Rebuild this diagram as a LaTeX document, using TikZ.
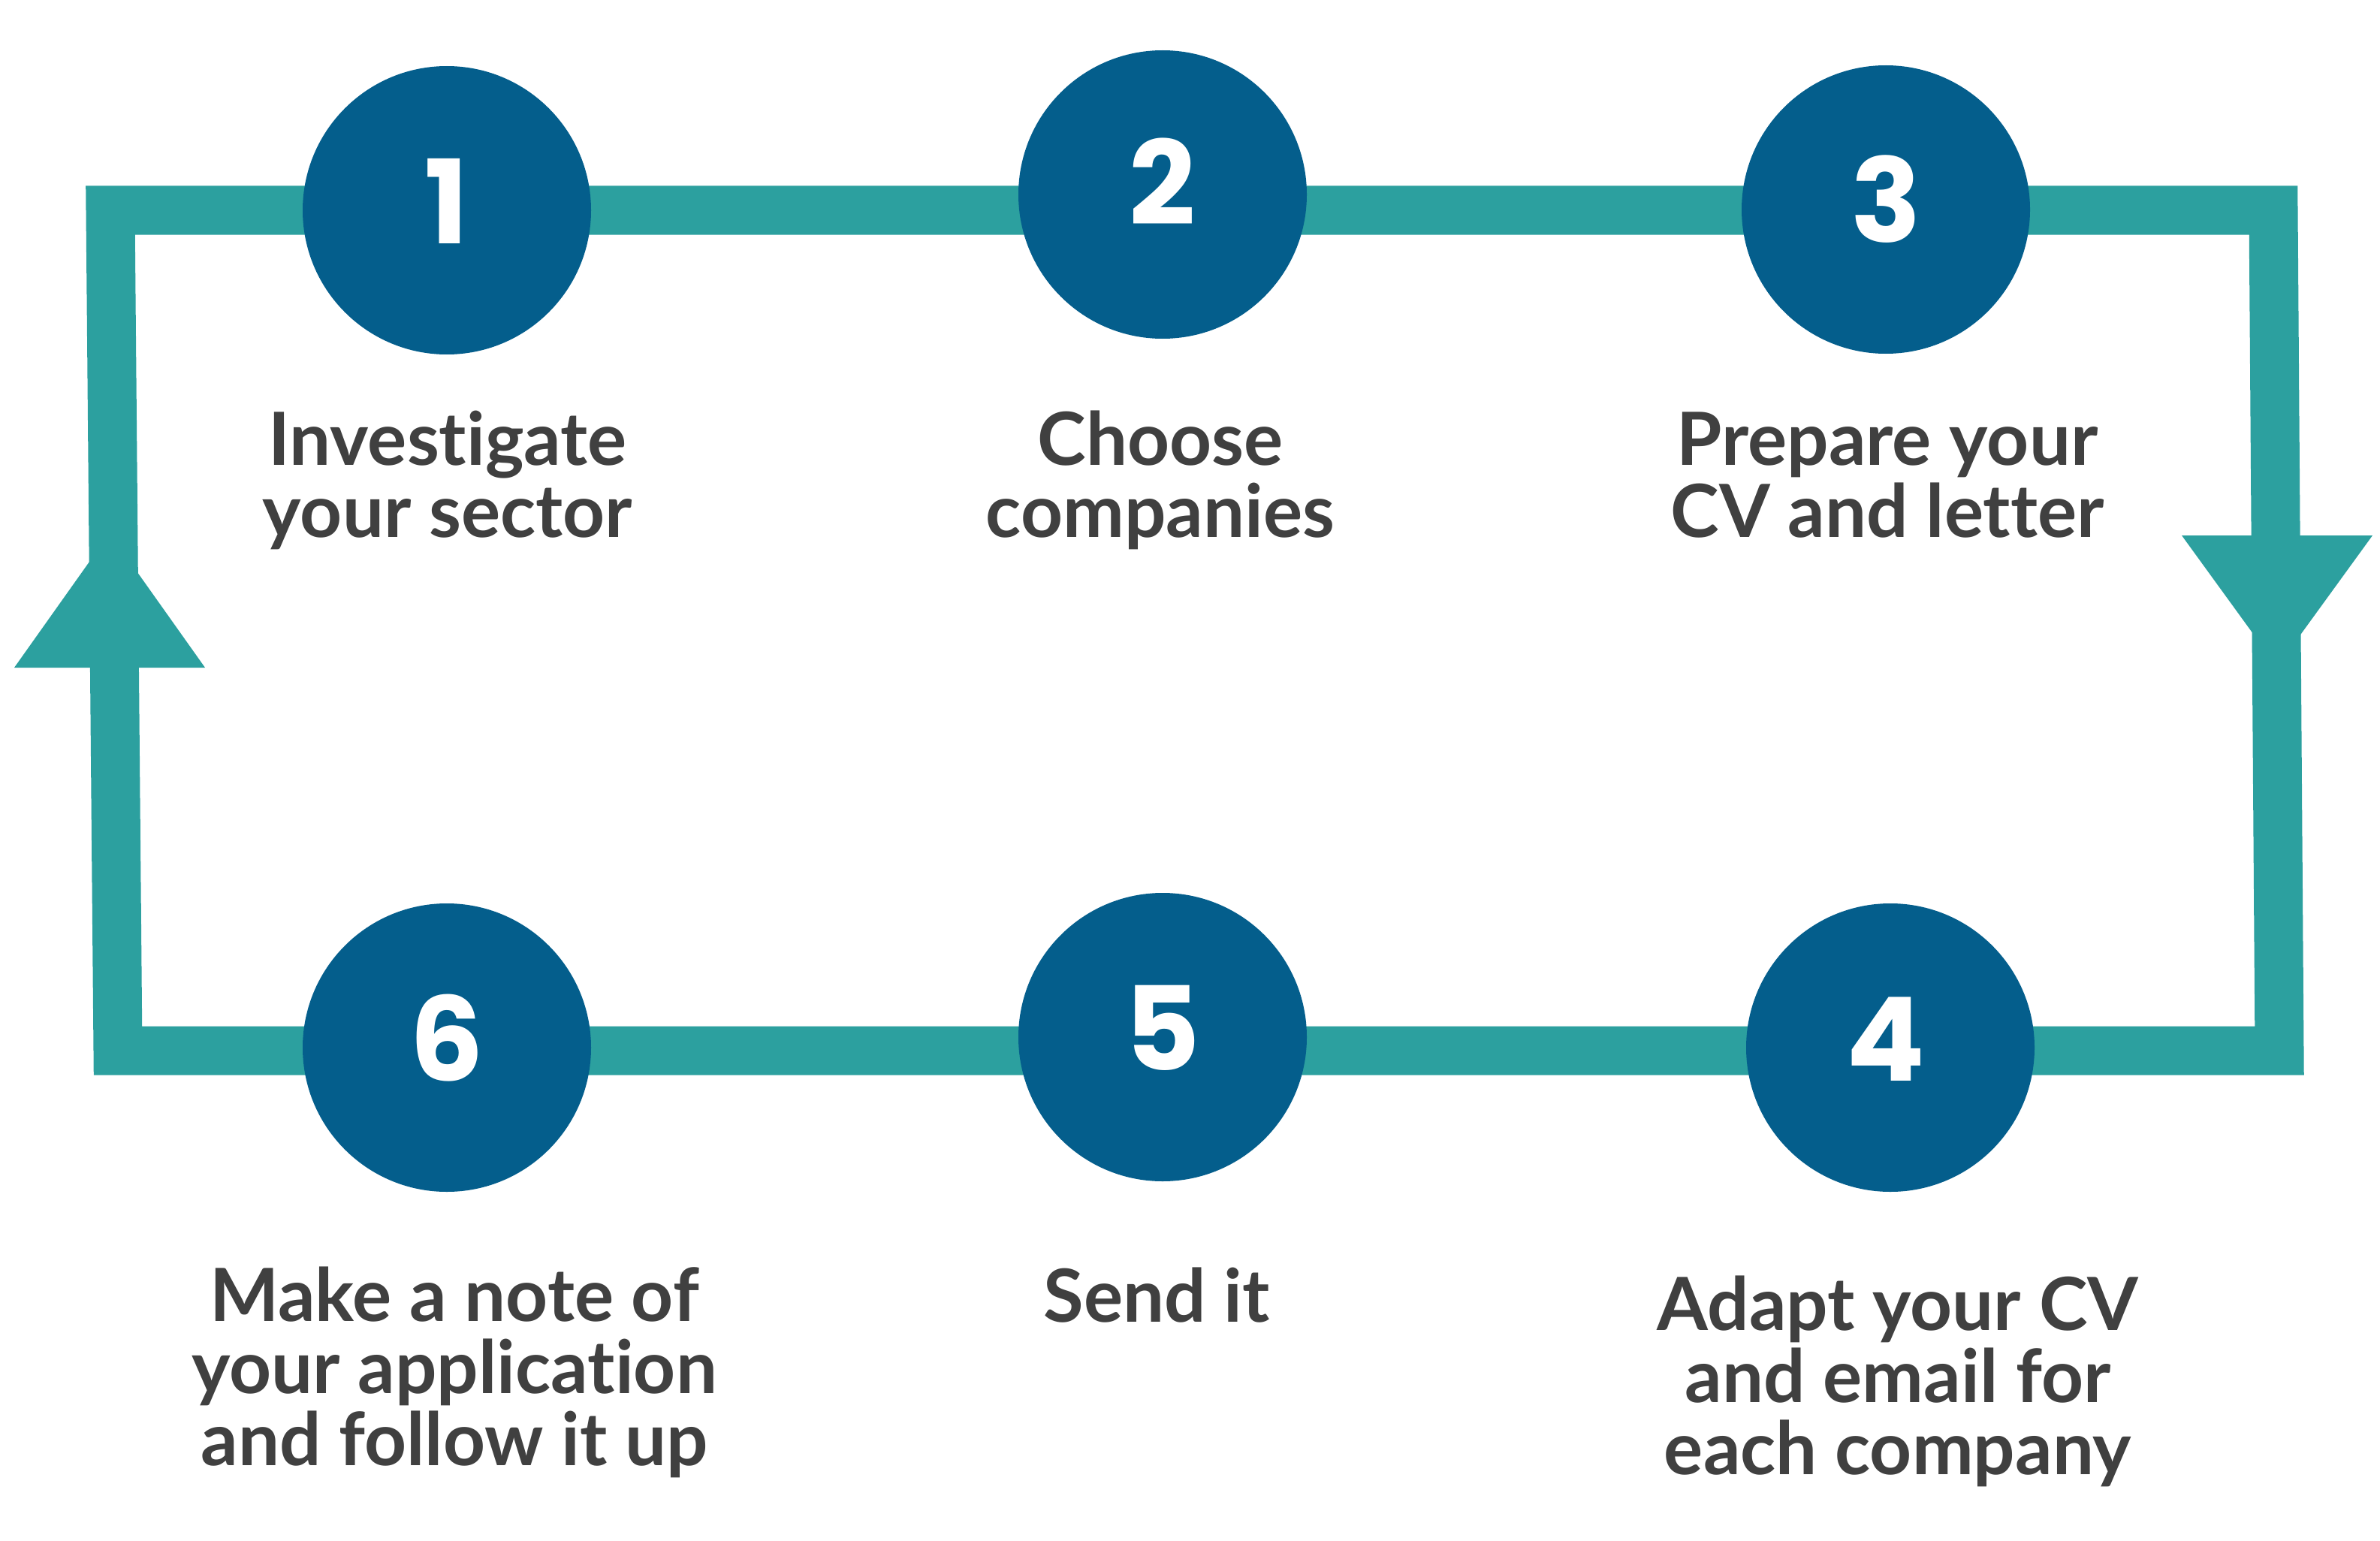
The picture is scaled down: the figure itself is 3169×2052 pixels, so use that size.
\documentclass[tikz,border=0pt]{standalone}
\usepackage{fontspec}
\newfontfamily\labelfont[Ligatures={NoCommon}]{Lato}
\newfontfamily\digitfont{Poppins}
\definecolor{loopteal}{RGB}{44,160,159}
\definecolor{stepblue}{RGB}{4,94,140}
\definecolor{textgrey}{RGB}{64,64,64}

\begin{document}
\begin{tikzpicture}[x=1pt,y=-1pt,
  bar/.style={draw=loopteal, line width=65pt, line join=miter},
  head/.style={fill=loopteal},
  stepdot/.style={circle, fill=stepblue, minimum size=384pt, inner sep=0pt},
  digit/.style={text=white, font=\digitfont\bfseries\fontsize{155}{155}\selectfont,
                anchor=base, inner sep=0pt},
  caption/.style={text=textgrey, font=\labelfont\bfseries\fontsize{97.7}{96}\selectfont,
                  align=center, anchor=base, inner sep=0pt}]
\useasboundingbox (0,0) rectangle (3169,2052);

% centre line of the loop band
\coordinate (tl) at (147,280);
\coordinate (tr) at (3027,280);
\coordinate (br) at (3035,1399);
\coordinate (bl) at (157,1399);
\draw[bar] (tl) -- (tr) -- (br) -- (bl) -- cycle;

% direction arrowheads on the two sides
\fill[head] (19,889) -- (146,710) -- (273,889) -- cycle;
\fill[head] (2905,713) -- (3032,888) -- (3159,713) -- cycle;

% numbered steps
\node[stepdot] (s1) at (595,280)  {};
\node[stepdot] (s2) at (1548,259) {};
\node[stepdot] (s3) at (2511,279) {};
\node[stepdot] (s4) at (2517,1395) {};
\node[stepdot] (s5) at (1548,1381) {};
\node[stepdot] (s6) at (595,1395) {};

\node[digit] (d1) at ([yshift=-44pt]s1.center) {1};
\node[digit] (d2) at ([yshift=-40pt]s2.center) {2};
\node[digit] (d3) at ([yshift=-44pt]s3.center) {3};
\node[digit] (d4) at ([xshift=-6pt,yshift=-44pt]s4.center) {4};
\node[digit] (d5) at ([yshift=-44pt]s5.center) {5};
\node[digit] (d6) at ([yshift=-44pt]s6.center) {6};

% step captions (placed on the baseline of their last line)
\node[caption] (t1) at (596,715)  {Investigate\\your sector};
\node[caption] (t2) at (1545,715) {Choose\\companies};
\node[caption] (t3) at (2513,715) {Prepare your\\CV and letter};
\node[caption] (t4) at (2527,1963) {Adapt your CV\\and email for\\each company};
\node[caption] (t5) at (1540,1760) {Send it};
\node[caption] (t6) at (605,1951) {Make a note of\\your application\\and follow it up};
\end{tikzpicture}
\end{document}
